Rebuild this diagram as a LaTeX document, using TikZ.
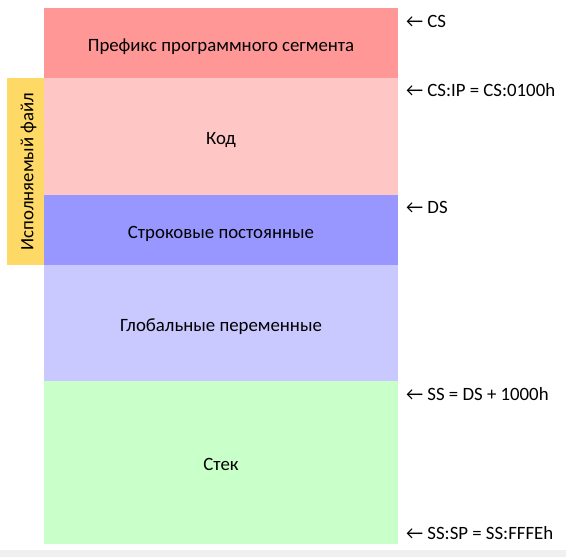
\documentclass[tikz,border=0pt]{standalone}
\usepackage{fontspec}
\setmainfont{Carlito}
\usetikzlibrary{positioning}

\definecolor{pspcol}{HTML}{FF9797}
\definecolor{codecol}{HTML}{FFC6C6}
\definecolor{strcol}{HTML}{9797FF}
\definecolor{globcol}{HTML}{C9C9FF}
\definecolor{stackcol}{HTML}{C9FFC9}
\definecolor{filecol}{HTML}{FFD966}
\definecolor{stripcol}{HTML}{F0F0F0}

\begin{document}
\begin{tikzpicture}[x=1pt,y=-1pt]
      \tikzset{
	  seg/.style={rectangle, inner sep=0pt, outer sep=0pt, minimum width=354pt, text height=16pt, text depth=0pt, font=\fontsize{18.8}{22}\selectfont},
	  reg/.style={anchor=base west, inner sep=0pt, font=\fontsize{18.8}{22}\selectfont}
      }
      \useasboundingbox (0,0) rectangle (566,557);
      \fill [stripcol] (0,550) rectangle (566,557);

      %-----segments of the program, top to bottom
      \node[seg, fill=pspcol, minimum height=70pt, anchor=north west] (psp) at (44,8) {Префикс программного сегмента};
      \node[seg, fill=codecol, minimum height=117pt, below=0pt of psp] (code) {Код};
      \node[seg, fill=strcol, minimum height=70pt, below=0pt of code] (str) {Строковые постоянные};
      \node[seg, fill=globcol, minimum height=116pt, below=0pt of str] (glob) {Глобальные переменные};
      \node[seg, fill=stackcol, minimum height=163pt, below=0pt of glob] (stack) {Стек};

      %-----executable file bar
      \node[seg, fill=filecol, minimum width=187pt, minimum height=37pt, rotate=90, anchor=south east] (exe) at (code.north west) {Исполняемый файл};

      %-----register labels
      \node[reg] (cs) at (406,27) {← CS};
      \node[reg] (csip) at (406,96) {← CS:IP = CS:0100h};
      \node[reg] (ds) at (406,213) {← DS};
      \node[reg] (ss) at (406,400) {← SS = DS + 1000h};
      \node[reg] (sssp) at (406,539) {← SS:SP = SS:FFFEh};
    \end{tikzpicture}
\end{document}
